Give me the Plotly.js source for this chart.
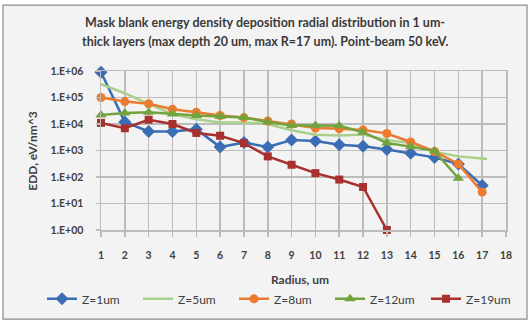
<!DOCTYPE html>
<html>
<head>
<meta charset="utf-8">
<script src="https://cdn.plot.ly/plotly-3.0.1.min.js"></script>
<style>
  html, body { margin: 0; padding: 0; background: #ffffff; }
  #chart { width: 529px; height: 322px; }
</style>
</head>
<body>
<div id="chart"></div>
<script>
// ---- data ----
const radius = [1, 2, 3, 4, 5, 6, 7, 8, 9, 10, 11, 12, 13, 14, 15, 16, 17];
const radiusZ5 = [1, 2, 3, 4, 5, 6, 7, 8, 9, 10, 11, 12, 13, 14, 15, 16, 17, 17.2];
const radiusZ12 = [1, 2, 3, 4, 5, 6, 7, 8, 9, 10, 11, 12, 13, 14, 15, 16];
const radiusZ19 = [1, 2, 3, 4, 5, 6, 7, 8, 9, 10, 11, 12, 13];

const z1 = [9.0e5, 1.2e4, 5.2e3, 5.2e3, 6.4e3, 1.35e3, 2.0e3, 1.35e3, 2.5e3, 2.3e3, 1.65e3, 1.45e3, 1.1e3, 7.8e2, 5.5e2, 3.1e2, 48];
const z5 = [3.2e5, 1.45e5, 5.8e4, 2.3e4, 1.5e4, 1.15e4, 1.15e4, 1.0e4, 5.8e3, 3.9e3, 3.7e3, 4.0e3, 2.5e3, 1.9e3, 9.0e2, 6.0e2, 5.0e2, 4.8e2];
const z8 = [1.0e5, 7.0e4, 5.8e4, 3.6e4, 2.8e4, 2.1e4, 1.75e4, 1.3e4, 1.0e4, 7.0e3, 6.6e3, 6.0e3, 4.4e3, 2.1e3, 9.2e2, 3.1e2, 27];
const z12 = [2.2e4, 2.6e4, 2.8e4, 2.4e4, 2.1e4, 1.9e4, 1.75e4, 1.2e4, 8.7e3, 8.7e3, 8.6e3, 4.9e3, 1.9e3, 1.4e3, 9.5e2, 90];
const z19 = [1.1e4, 6.9e3, 1.45e4, 1.0e4, 4.6e3, 3.6e3, 1.9e3, 6.0e2, 2.9e2, 1.4e2, 80, 42, 1];

const yTickVals = [1, 10, 100, 1000, 10000, 100000, 1000000];
const yTickText = ['1.E+00', '1.E+01', '1.E+02', '1.E+03', '1.E+04', '1.E+05', '1.E+06'];
const xTickVals = [1, 2, 3, 4, 5, 6, 7, 8, 9, 10, 11, 12, 13, 14, 15, 16, 17, 18];

const seriesNames = ['Z=1um', 'Z=5um', 'Z=8um', 'Z=12um', 'Z=19um'];
const titleLines = [
  'Mask blank energy density deposition radial distribution in 1 um-',
  'thick layers (max depth 20 um, max R=17 um). Point-beam 50 keV.'
];
const xTitle = 'Radius, um';
const yTitle = 'EDD, eV/nm^3';

// ---- styles ----
const FONT = 'Lato, "Open Sans", sans-serif';
const TXT = '#404040';
const GRID = '#bcbcbc';

const traces = [
  { x: radius, y: z1, name: seriesNames[0], mode: 'lines+markers',
    line: { color: '#3a6db3', width: 2.5 },
    marker: { symbol: 'diamond', size: 10, color: '#3a6db3' } },
  { x: radiusZ5, y: z5, name: seriesNames[1], mode: 'lines',
    line: { color: '#a9cf8a', width: 2.5 } },
  { x: radius, y: z8, name: seriesNames[2], mode: 'lines+markers',
    line: { color: '#ec7b30', width: 2.5 },
    marker: { symbol: 'circle', size: 9, color: '#ec7b30' } },
  { x: radiusZ12, y: z12, name: seriesNames[3], mode: 'lines+markers',
    line: { color: '#72a33c', width: 2.5 },
    marker: { symbol: 'triangle-up', size: 10, color: '#72a33c' } },
  { x: radiusZ19, y: z19, name: seriesNames[4], mode: 'lines+markers',
    line: { color: '#a8312f', width: 2.5 },
    marker: { symbol: 'square', size: 8, color: '#a8312f' } }
].map(t => Object.assign(t, { type: 'scatter', cliponaxis: false }));

// plot area in pixels: left 101, right 506, top 71, bottom 230.5
const L = 101, R = 506, T = 71, B = 230.5, W = 529, H = 322;
const px = v => (v - L) / (R - L);
const py = v => (B - v) / (B - T);

const annotations = [
  { text: titleLines[0], x: px(265), y: py(22), yanchor: 'middle',
    font: { family: FONT, size: 12.5, color: '#3a3a3a', weight: 'bold' } },
  { text: titleLines[1], x: px(265), y: py(41), yanchor: 'middle',
    font: { family: FONT, size: 12.5, color: '#3a3a3a', weight: 'bold' } },
  { text: xTitle, x: px(300), y: py(280), yanchor: 'middle',
    font: { family: FONT, size: 12, color: TXT, weight: 'bold' } },
  { text: yTitle, x: px(33), y: py(151), yanchor: 'middle', textangle: -90,
    font: { family: FONT, size: 12, color: TXT, weight: 'bold' } }
].map(a => Object.assign(a, { xref: 'paper', yref: 'paper', xanchor: 'center', showarrow: false }));

const layout = {
  width: W, height: H,
  margin: { l: L, r: W - R, t: T, b: H - B, pad: 0, autoexpand: false },
  paper_bgcolor: '#ffffff',
  plot_bgcolor: 'rgba(0,0,0,0)',
  font: { family: FONT, color: TXT },
  showlegend: true,
  xaxis: {
    type: 'linear', range: [1, 18], automargin: false,
    tickmode: 'array', tickvals: xTickVals,
    showgrid: true, gridcolor: GRID, gridwidth: 1.5,
    showline: true, linecolor: GRID, linewidth: 1.5, mirror: true,
    ticks: 'outside', ticklen: 5, tickcolor: GRID, tickwidth: 1.5,
    ticklabelstandoff: 10,
    tickfont: { family: FONT, size: 10.5, color: TXT, weight: 'bold' },
    zeroline: false
  },
  yaxis: {
    type: 'log', range: [0, 6], automargin: false,
    tickmode: 'array', tickvals: yTickVals, ticktext: yTickText,
    showgrid: true, gridcolor: GRID, gridwidth: 1.5,
    showline: true, linecolor: GRID, linewidth: 1.5, mirror: true,
    ticks: 'outside', ticklen: 4, tickcolor: GRID, tickwidth: 1.5,
    ticklabelstandoff: 10,
    tickfont: { family: FONT, size: 10.5, color: TXT, weight: 'bold' },
    zeroline: false
  },
  legend: {
    orientation: 'h',
    x: px(42), xanchor: 'left',
    y: py(285), yanchor: 'top',
    font: { family: FONT, size: 12, color: TXT },
    bgcolor: 'rgba(0,0,0,0)',
    itemwidth: 30, tracegroupgap: 0,
    entrywidth: 51, entrywidthmode: 'pixels'
  },
  annotations: annotations,
  shapes: [{
    type: 'rect', xref: 'paper', yref: 'paper', layer: 'below',
    x0: px(3), x1: px(527), y0: py(320), y1: py(5),
    fillcolor: '#f3f3f3', line: { color: '#8c8c8c', width: 1.2 }
  }]
};

Plotly.newPlot('chart', traces, layout, { displayModeBar: false, staticPlot: true });
</script>
</body>
</html>
